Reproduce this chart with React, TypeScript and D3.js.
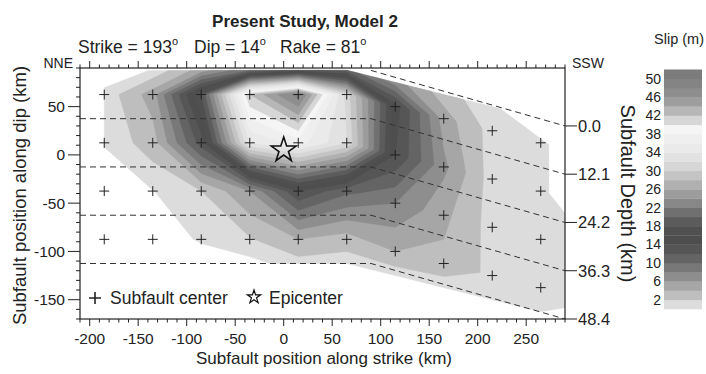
import React from "react";
import * as d3 from "d3";

// subfault columns along strike (km); the last one sits past the right axis
const strikeCols = [-185, -135, -85, -35, 15, 65, 115, 165, 215, 265, 315];
// the fault bends past ~90 km, so columns there shift down dip
const colShift = [0, 0, 0, 0, 0, 0, -12.5, -25, -37.5, -50, -62.5];
// node rows along dip: top edge, four subfault rows, bottom edge
const dipRows = [87.5, 62.5, 12.5, -37.5, -87.5, -112.5];

// slip (m) at each node, one array per node row
const slipTop = [0, 0.55, 5, 10, 13, 11, 7, 3, 0.6, 0, 0];
const slipRow1 = [0.7, 5, 18, 42, 49, 31, 15, 5, 1.2, 0.6, 0];
const slipRow2 = [0.55, 3, 13, 34, 37, 32, 14, 6.5, 1.0, 0.6, 0];
const slipRow3 = [0, 0.45, 2, 6, 14, 10.5, 8, 4.5, 1.2, 0.8, 0.6];
const slipRow4 = [0, 0, 0.6, 1.8, 4, 3, 4, 3.5, 1.5, 1.0, 0.6];
const slipBottom = [0, 0, 0, 0, 1.2, 1.0, 0.8, 0.7, 0.6, 0.5, 0];

const slipLevels = [0.5, 2, 4, 6, 8, 10, 12, 14, 16, 18, 20, 22, 24, 26, 28, 30, 32, 34, 36, 38, 40, 42, 44, 46, 48, 50];
const barLabels = [2, 6, 10, 14, 18, 22, 26, 30, 34, 38, 42, 46, 50];
const depthTicks = [0, 12.1, 24.2, 36.3, 48.4];
const epicenter = [0, 5];

// gray level of each 2 m band (0-2 ... 50-52)
const bandGray = [220, 190, 166, 142, 120, 100, 86, 78, 80, 92, 112, 135, 156, 176, 196, 214, 226, 234, 239, 245, 214, 183, 158, 142, 132, 124];
const grayOf = (g: number) => `rgb(${g},${g},${g})`;

const W = 706, H = 374;
const left = 80, right = 565, top = 68, bottom = 319;
const font = "'Liberation Sans', Arial, sans-serif";
const ink = "#222";

const x = d3.scaleLinear().domain([-210, 290]).range([left, right]);
const y = d3.scaleLinear().domain([-170, 90]).range([bottom, top]);
const depth = d3.scaleLinear().domain([0, 48.4]).range([y(30), y(-170)]);
const bar = d3.scaleLinear().domain([0, 52]).range([309, 69.5]);

// piecewise linear lookup at fractional index, clamped to the ends
function interp(arr: number[], t: number) {
  const i = Math.max(0, Math.min(arr.length - 1, t));
  const i0 = Math.min(Math.floor(i), arr.length - 2);
  const f = i - i0;
  return arr[i0] * (1 - f) + arr[i0 + 1] * f;
}

function toScreen(p: number[]) {
  const u = p[0] - 0.5, v = p[1] - 0.5;
  const sx = interp(strikeCols, u);
  const sy = interp(dipRows, v) + interp(colShift, u);
  return [x(sx), y(sy)];
}

export default function App() {
  const rows = [slipTop, slipRow1, slipRow2, slipRow3, slipRow4, slipBottom];
  const values = rows.flat();
  const bands = d3.contours().size([strikeCols.length, rows.length]).thresholds(slipLevels)(values);

  const bandPaths = bands.map((b, k) => {
    let d = "";
    b.coordinates.forEach((poly) =>
      poly.forEach((ring) => {
        d += "M" + ring.map((p) => toScreen(p).map((n) => n.toFixed(2)).join(",")).join("L") + "Z";
      })
    );
    return <path key={k} d={d} fill={grayOf(bandGray[k])} fillRule="evenodd" stroke={grayOf(bandGray[k])} strokeWidth={0.4} />;
  });

  const centers: number[][] = [];
  for (let r = 1; r <= 4; r++)
    for (let c = 0; c < 10; c++) centers.push([strikeCols[c], dipRows[r] + colShift[c]]);

  const plus = (cx: number, cy: number, h: number, w: number, key?: any) => (
    <path key={key} d={`M${cx - h},${cy}H${cx + h}M${cx},${cy - h}V${cy + h}`} stroke={ink} strokeWidth={w} />
  );

  // depth contours: flat along dip until the bend, then sloping to the depth axis
  const bendAt = 90;
  const dashes = depthTicks.map((dt, i) => {
    const startDip = dipRows[0] - 50 * i;
    const d = i === 0
      ? `M${x(bendAt)},${y(startDip)}L${x(290)},${depth(dt)}`
      : `M${x(-210)},${y(startDip)}L${x(bendAt)},${y(startDip)}L${x(290)},${depth(dt)}`;
    return <path key={i} d={d} fill="none" stroke="#333" strokeWidth={1} strokeDasharray="6,4" />;
  });

  const star = (size: number) => d3.symbol(d3.symbolStar, size)() as string;

  const xMinor = d3.range(-210, 291, 10);
  const yMinor = d3.range(-170, 91, 10);
  const xMajor = d3.range(-200, 251, 50);
  const yMajor = d3.range(-150, 51, 50);

  return (
    <svg width={W} height={H} style={{ position: "absolute", left: 0, top: 0, background: "#fff" }} fontFamily={font}>
      <defs>
        <clipPath id="plot">
          <rect x={left} y={top} width={right - left} height={bottom - top} />
        </clipPath>
      </defs>

      <g clipPath="url(#plot)">
        {bandPaths}
        {dashes}
        {centers.map((p, i) => plus(x(p[0]), y(p[1]), 5, 1, i))}
        <path d={star(190)} transform={`translate(${x(epicenter[0])},${y(epicenter[1])})`} fill="none" stroke="#111" strokeWidth={1.6} />
      </g>

      {/* frame */}
      <rect x={left} y={top} width={right - left} height={bottom - top} fill="none" stroke={ink} strokeWidth={1.2} />

      {/* bottom and top ticks */}
      {xMinor.map((v) => {
        const major = v % 50 === 0 && v !== -210;
        const len = major ? 7 : 3.5;
        return (
          <g key={v} stroke={ink} strokeWidth={1}>
            <line x1={x(v)} x2={x(v)} y1={bottom} y2={bottom + len} />
            <line x1={x(v)} x2={x(v)} y1={top} y2={top - len} />
          </g>
        );
      })}
      {xMajor.map((v) => (
        <text key={v} x={x(v)} y={344} fontSize={15.5} textAnchor="middle" fill={ink}>{v}</text>
      ))}

      {/* left ticks */}
      {yMinor.map((v) => {
        const major = v % 50 === 0;
        return <line key={v} x1={left} x2={left - (major ? 12 : 4)} y1={y(v)} y2={y(v)} stroke={ink} strokeWidth={1} />;
      })}
      {yMajor.map((v) => (
        <text key={v} x={65} y={y(v)} dy="0.35em" fontSize={15.5} textAnchor="end" fill={ink}>{v}</text>
      ))}

      {/* right depth axis */}
      {depthTicks.map((dt) => (
        <g key={dt}>
          <line x1={right} x2={right + 12} y1={depth(dt)} y2={depth(dt)} stroke={ink} strokeWidth={1} />
          <text x={578} y={depth(dt)} dy="0.35em" fontSize={16.5} fill={ink}>{dt.toFixed(1)}</text>
        </g>
      ))}

      {/* titles */}
      <text x={305} y={27} fontSize={17} fontWeight="bold" textAnchor="middle" fill={ink}>Present Study, Model 2</text>
      <text y={53} fontSize={17.5} fill={ink}>
        <tspan x={78}>Strike = 193</tspan><tspan dy={-8} fontSize={11}>o</tspan>
        <tspan x={194} dy={8}>Dip = 14</tspan><tspan dy={-8} fontSize={11}>o</tspan>
        <tspan x={280} dy={8}>Rake = 81</tspan><tspan dy={-8} fontSize={11}>o</tspan>
      </text>
      <text x={73} y={68} fontSize={14} textAnchor="end" fill={ink}>NNE</text>
      <text x={572} y={68} fontSize={14} fill={ink}>SSW</text>
      <text x={324} y={364} fontSize={17} textAnchor="middle" fill={ink}>Subfault position along strike (km)</text>
      <text transform={`translate(20,${(top + bottom) / 2 + 2}) rotate(-90)`} dy="0.35em" fontSize={18.5} textAnchor="middle" fill={ink}>
        Subfault position along dip (km)
      </text>
      <text transform={`translate(628,${(top + bottom) / 2}) rotate(90)`} dy="0.35em" fontSize={20} textAnchor="middle" fill={ink}>
        Subfault Depth (km)
      </text>

      {/* legend */}
      {plus(95, 298, 6, 1.6)}
      <text x={110} y={304} fontSize={17.5} fill={ink}>Subfault center</text>
      <path d={star(55)} transform="translate(254,297)" fill="none" stroke="#111" strokeWidth={1.2} />
      <text x={269} y={304} fontSize={17.5} fill={ink}>Epicenter</text>

      {/* colour bar */}
      <text x={679} y={44} fontSize={14.5} textAnchor="middle" fill={ink}>Slip (m)</text>
      {bandGray.map((g, k) => (
        <rect key={k} x={664} y={bar(2 * k + 2)} width={38} height={bar(2 * k) - bar(2 * k + 2) + 0.3} fill={grayOf(g)} />
      ))}
      {barLabels.map((v) => (
        <text key={v} x={661} y={bar(v)} dy="0.35em" fontSize={14} textAnchor="end" fill={ink}>{v}</text>
      ))}
    </svg>
  );
}
